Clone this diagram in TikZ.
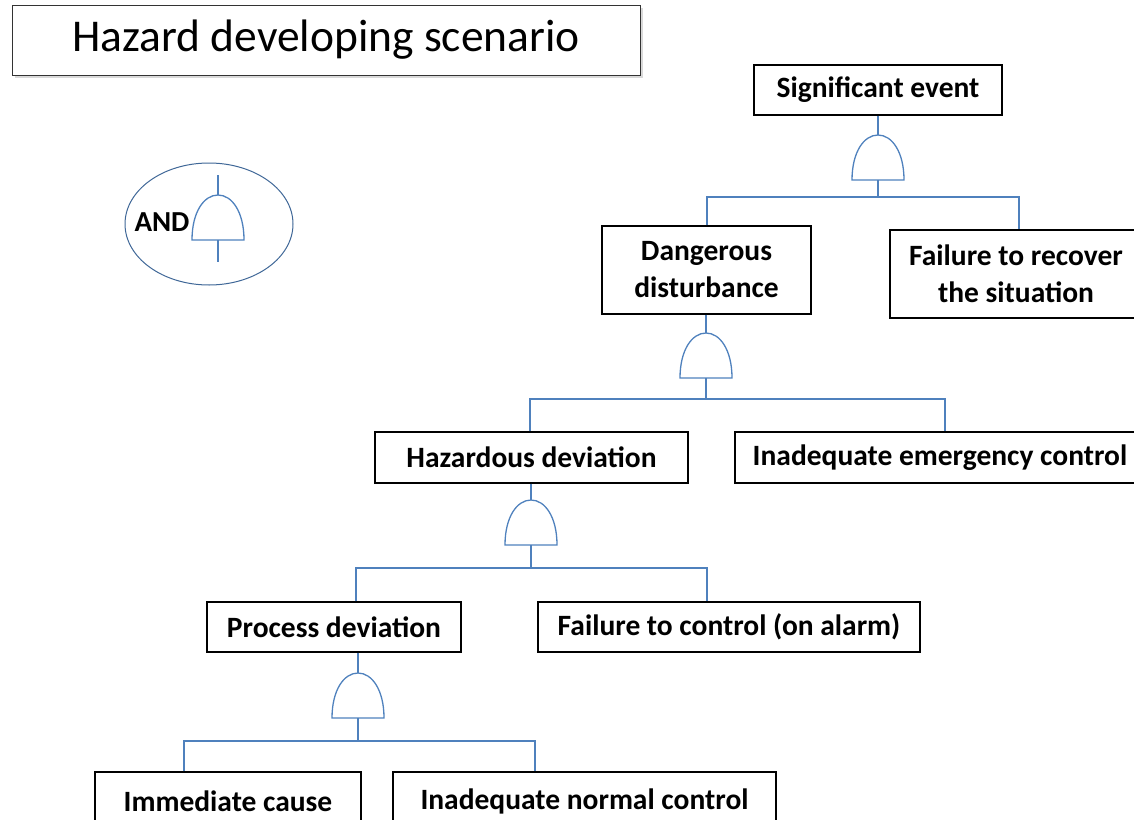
\documentclass[tikz,border=0pt]{standalone}
\usepackage{fontspec}
\setmainfont{Carlito}
\usepackage{tikz}
\usetikzlibrary{shapes.geometric}
\usetikzlibrary{shadows}
\definecolor{wireblue}{RGB}{79,129,189}
\newcommand\evfont{\fontsize{29.5}{37}\selectfont\bfseries}
\tikzset{
  evbox/.style={rectangle,draw=black,line width=1.2pt,fill=white,align=center,inner sep=0pt,font=\evfont},
  wire/.style={wireblue,line width=1.3pt},
  andgate/.pic={
    \draw[wire] (-26,0) .. controls (-26,-28) and (-14,-45) .. (0,-45)
                        .. controls (14,-45) and (26,-28) .. (26,0) -- cycle;
    \coordinate (-top) at (0,-45);
    \coordinate (-base) at (0,0);
  }
}

\begin{document}
\begin{tikzpicture}[x=1pt,y=-1pt]
\useasboundingbox (0,0) rectangle (1134,819);
\clip (0,0) rectangle (1134,819);
% title and legend
\node(title)[rectangle,draw=black!80,line width=1pt,fill=white,minimum width=628,minimum height=70,
  font=\fontsize{45.5}{50}\selectfont,
  drop shadow={opacity=0.3,shadow xshift=3pt,shadow yshift=-3pt}] at (326,40) {Hazard developing scenario};
\node(legend)[ellipse,draw=wireblue!80!black,line width=1pt,minimum width=168,minimum height=122,inner sep=0pt] at (209,224) {};
\node(andtxt)[font=\fontsize{29}{32}\selectfont\bfseries,inner sep=0pt] at (162,222) {AND};
\pic (gl) at (218,240) {andgate};
\draw[wire] (gl-top) -- ++(0,-20);
\draw[wire] (gl-base) -- ++(0,22);
% boxes
\path (878,90) node(se)[evbox,minimum width=248,minimum height=50]{Significant event}
(706.5,270) node(dd)[evbox,minimum width=209,minimum height=88]{Dangerous\\disturbance}
(1016,274) node(fr)[evbox,minimum width=252,minimum height=88]{Failure to recover\\the situation}
(531.5,457.5) node(hd)[evbox,minimum width=313,minimum height=51]{Hazardous deviation}
(940,457.5) node(iec)[evbox,minimum width=410,minimum height=51]{Inadequate emergency control}
(334,627) node(pd)[evbox,minimum width=254,minimum height=50]{Process deviation}
(729,627) node(ftc)[evbox,minimum width=382,minimum height=50]{Failure to control (on alarm)}
(228,801) node(ic)[evbox,minimum width=266,minimum height=58]{Immediate cause}
(584.5,801) node(inc)[evbox,minimum width=383,minimum height=58]{Inadequate normal control};
% gates
\pic (g1) at (878,180) {andgate};
\pic (g2) at (706,378) {andgate};
\pic (g3) at (531,545) {andgate};
\pic (g4) at (358,718) {andgate};
\coordinate (l1) at (707,197); \coordinate (r1) at (1019,197);
\coordinate (l2) at (530,399); \coordinate (r2) at (945,399);
\coordinate (l3) at (356,568); \coordinate (r3) at (707,568);
\coordinate (l4) at (184,741); \coordinate (r4) at (535,741);
% connectors
\draw[wire](g1-top |- se.south)--(g1-top);
\draw[wire](g1-base)--(g1-base |- l1);
\draw[wire](l1 |- dd.north)--(l1)--(r1)--(r1 |- fr.north);
\draw[wire](g2-top |- dd.south)--(g2-top);
\draw[wire](g2-base)--(g2-base |- l2);
\draw[wire](l2 |- hd.north)--(l2)--(r2)--(r2 |- iec.north);
\draw[wire](g3-top |- hd.south)--(g3-top);
\draw[wire](g3-base)--(g3-base |- l3);
\draw[wire](l3 |- pd.north)--(l3)--(r3)--(r3 |- ftc.north);
\draw[wire](g4-top |- pd.south)--(g4-top);
\draw[wire](g4-base)--(g4-base |- l4);
\draw[wire](l4 |- ic.north)--(l4)--(r4)--(r4 |- inc.north);

\end{tikzpicture}
\end{document}
